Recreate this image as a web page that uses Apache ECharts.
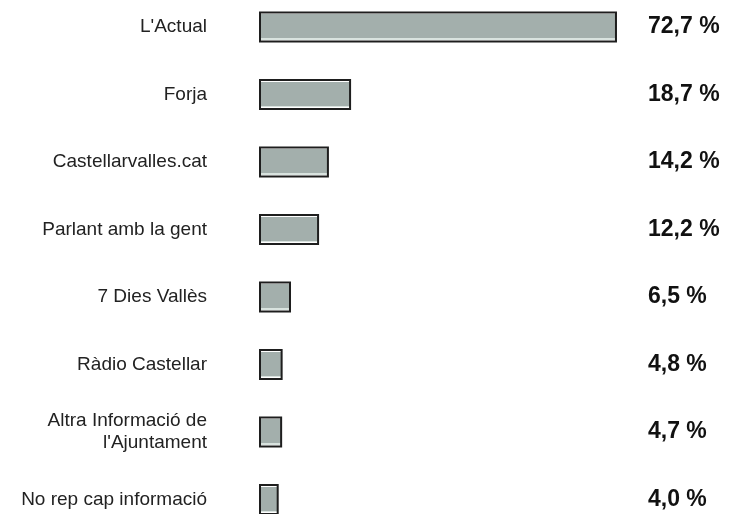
<!DOCTYPE html>
<html>
<head>
<meta charset="utf-8">
<script src="https://cdn.jsdelivr.net/npm/echarts@6/dist/echarts.min.js"></script>
<style>
  html, body { margin: 0; padding: 0; background: #fff; }
  #chart { width: 740px; height: 514px; }
</style>
</head>
<body>
<div id="chart"></div>
<script>
const categories = [
  "L'Actual",
  "Forja",
  "Castellarvalles.cat",
  "Parlant amb la gent",
  "7 Dies Vallès",
  "Ràdio Castellar",
  "Altra Informació de\nl'Ajuntament",
  "No rep cap informació"
];
const values = [72.7, 18.7, 14.2, 12.2, 6.5, 4.8, 4.7, 4.0];

const valueLabels = values.map(v => v.toFixed(1).replace('.', ',') + ' %');

const myChart = echarts.init(document.getElementById('chart'));

// bar fill: grey with thin white lines near top and bottom
const barFill = new echarts.graphic.LinearGradient(0, 0, 0, 1, [
  { offset: 0, color: '#ffffff' },
  { offset: 0.09, color: '#ffffff' },
  { offset: 0.09, color: '#a3afac' },
  { offset: 0.87, color: '#a3afac' },
  { offset: 0.87, color: '#d9e3df' },
  { offset: 0.91, color: '#d9e3df' },
  { offset: 0.91, color: '#ffffff' },
  { offset: 1, color: '#ffffff' }
]);

myChart.setOption({
  animation: false,
  grid: {
    left: 259,
    right: 92,
    top: -6.75,
    height: 540,
    outerBoundsMode: 'none',
    containLabel: false
  },
  xAxis: {
    type: 'value',
    min: 0,
    max: 79,
    show: false
  },
  yAxis: [
    {
      type: 'category',
      data: categories,
      inverse: true,
      axisLine: { show: false },
      axisTick: { show: false },
      axisLabel: {
        margin: 52,
        fontFamily: 'Liberation Sans, Arial, sans-serif',
        fontSize: 19,
        lineHeight: 22,
        color: '#222',
        padding: [2, 0, 0, 0]
      }
    },
    {
      type: 'category',
      data: valueLabels,
      inverse: true,
      position: 'right',
      axisLine: { show: false },
      axisTick: { show: false },
      axisLabel: {
        margin: 0,
        align: 'left',
        fontFamily: 'Liberation Sans, Arial, sans-serif',
        fontSize: 23,
        fontWeight: 'bold',
        color: '#111',
        padding: [2, 0, 0, 0]
      }
    }
  ],
  series: [
    {
      type: 'bar',
      data: values,
      barWidth: 31,
      itemStyle: {
        color: barFill,
        borderColor: '#1e1e1e',
        borderWidth: 2
      }
    }
  ]
});
</script>
</body>
</html>
